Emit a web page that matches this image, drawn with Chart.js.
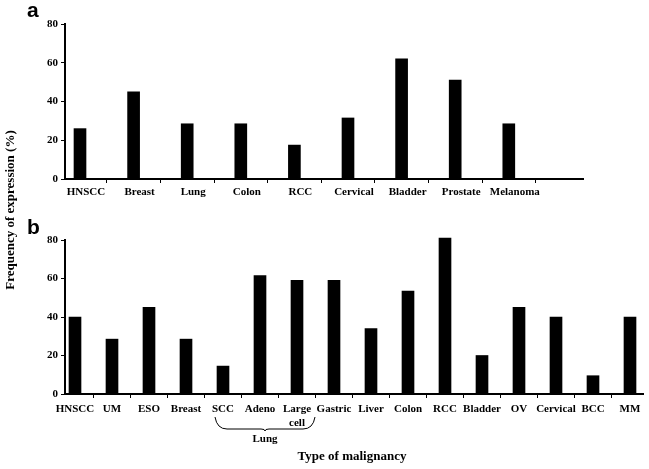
<!DOCTYPE html>
<html lang="en">
<head>
<meta charset="UTF-8">
<title>Frequency of expression by malignancy</title>
<script src="https://cdn.jsdelivr.net/npm/chart.js@4.4.0/dist/chart.umd.min.js"></script>
<style>
  body { margin: 0; background: #fff; }
  #wrap { position: relative; width: 649px; height: 469px; overflow: hidden; }
  canvas { position: absolute; left: 0; }
  #chartA { top: 0; }
  #chartB { top: 200px; }
  .panel { position: absolute; font: bold 21px "Liberation Sans", Arial, sans-serif; color: #000; }
  #yTitle {
    position: absolute; left: 10px; top: 210px; white-space: nowrap;
    font: bold 13px "Liberation Serif", serif; color: #000;
    transform: translate(-50%, -50%) rotate(-90deg);
  }
</style>
</head>
<body>
<div id="wrap">
  <canvas id="chartA" width="649" height="200"></canvas>
  <canvas id="chartB" width="649" height="269"></canvas>
  <div class="panel" style="left:27px;top:-2px;">a</div>
  <div class="panel" style="left:27px;top:215px;">b</div>
  <div id="yTitle">Frequency of expression (%)</div>
</div>

<script>
  // panel a
  const categoriesA = ['HNSCC', 'Breast', 'Lung', 'Colon', 'RCC', 'Cervical', 'Bladder', 'Prostate', 'Melanoma'];
  const valuesA = [26, 45, 28.5, 28.5, 17.5, 31.5, 62, 51, 28.5];

  // panel b
  const categoriesB = ['HNSCC', 'UM', 'ESO', 'Breast', 'SCC', 'Adeno', ['Large', 'cell'], 'Gastric', 'Liver',
    'Colon', 'RCC', 'Bladder', 'OV', 'Cervical', 'BCC', 'MM'];
  const valuesB = [40, 28.5, 45, 28.5, 14.5, 61.5, 59, 59, 34, 53.5, 81, 20, 45, 40, 9.5, 40];

  const yTicks = [0, 20, 40, 60, 80];

  const tickFont = { family: '"Liberation Serif", serif', size: 11, weight: 'bold' };

  // the original spaces its categories a bit unevenly; stretch the category scale
  // so the first bar sits `first` px in from the axis and the next ones `step` px apart
  function spreadCategories(n, axisLen, first, step) {
    return s => {
      s.ticks = Array.from({ length: n }, (_, i) => ({ value: i }));
      s._startValue = -first / step;
      s._valueRange = axisLen / step;
    };
  }

  function makeOptions(canvasH, bottom, top, right, labelPad, labelShift, spread) {
    return {
      responsive: false,
      animation: false,
      layout: { padding: { left: 0, top: top, right: right, bottom: 0 } },
      plugins: { legend: { display: false }, tooltip: { enabled: false } },
      scales: {
        x: {
          grid: { drawOnChartArea: false, drawTicks: true, tickLength: 4, color: '#000', offset: true },
          border: { color: '#000', width: 2 },
          ticks: { color: '#000', font: tickFont, padding: labelPad, labelOffset: labelShift, maxRotation: 0, autoSkip: false },
          afterBuildTicks: spread,
          afterFit: s => { s.height = canvasH - bottom; }
        },
        y: {
          min: 0, max: 80,
          afterBuildTicks: s => { s.ticks = yTicks.map(v => ({ value: v })); },
          grid: { drawOnChartArea: false, drawTicks: true, tickLength: 4, color: '#000' },
          border: { color: '#000', width: 2 },
          ticks: { color: '#000', font: tickFont, padding: 3 },
          afterFit: s => { s.width = 65; }
        }
      }
    };
  }

  new Chart(document.getElementById('chartA'), {
    type: 'bar',
    data: {
      labels: categoriesA,
      datasets: [{ data: valuesA, backgroundColor: '#000', barThickness: 12 }]
    },
    options: makeOptions(200, 179, 24, 66, 3, 6, spreadCategories(categoriesA.length, 518, 15, 53.6))
  });

  // bracket under the lung subtypes + axis title
  const extras = {
    id: 'extras',
    afterDraw(chart) {
      const ctx = chart.ctx;
      const x = chart.scales.x;
      const x1 = x.getPixelForValue(4) - 8;
      const x2 = x.getPixelForValue(6) + 18;
      const mid = (x1 + x2) / 2;
      const yTop = 217, yBot = 229;
      ctx.save();
      ctx.strokeStyle = '#000';
      ctx.lineWidth = 1;
      ctx.beginPath();
      ctx.moveTo(x1, yTop);
      ctx.quadraticCurveTo(x1 + 2, yBot, x1 + 12, yBot);
      ctx.lineTo(mid - 4, yBot);
      ctx.quadraticCurveTo(mid, yBot, mid, yBot + 2);
      ctx.quadraticCurveTo(mid, yBot, mid + 4, yBot);
      ctx.lineTo(x2 - 12, yBot);
      ctx.quadraticCurveTo(x2 - 2, yBot, x2, yTop);
      ctx.stroke();
      ctx.fillStyle = '#000';
      ctx.textAlign = 'center';
      ctx.textBaseline = 'middle';
      ctx.font = 'bold 11px "Liberation Serif", serif';
      ctx.fillText('Lung', mid, 239);
      ctx.font = 'bold 13px "Liberation Serif", serif';
      ctx.fillText('Type of malignancy', 352, 257);
      ctx.restore();
    }
  };

  new Chart(document.getElementById('chartB'), {
    type: 'bar',
    data: {
      labels: categoriesB,
      datasets: [{ data: valuesB, backgroundColor: '#000', barThickness: 12, clip: false }]
    },
    options: makeOptions(269, 194, 40, 6, 5, 0, spreadCategories(categoriesB.length, 578, 10, 37)),
    plugins: [extras]
  });
</script>
</body>
</html>
